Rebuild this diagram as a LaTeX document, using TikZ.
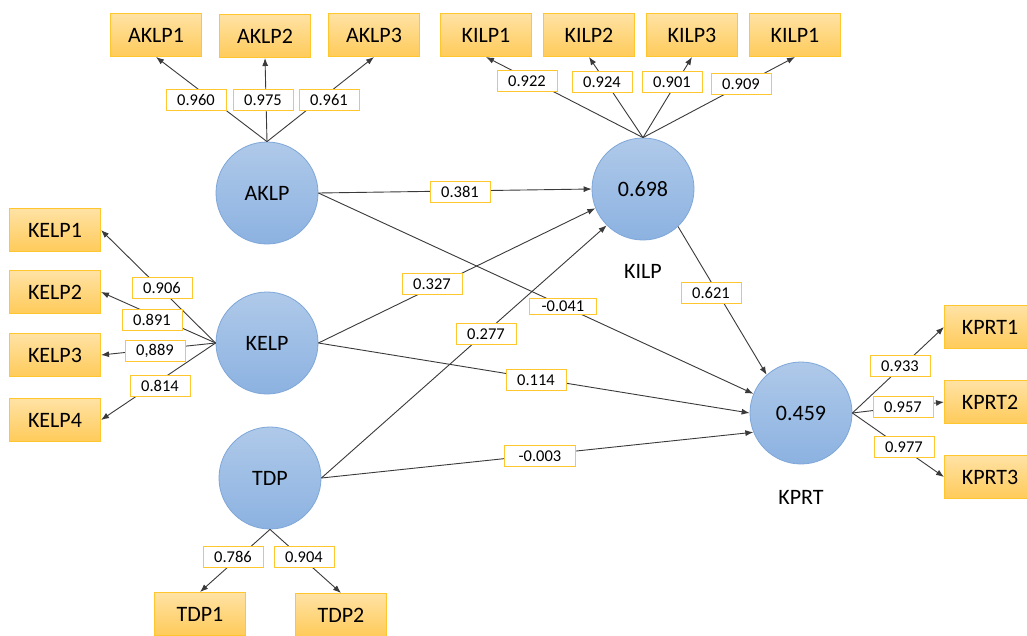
\documentclass[tikz,border=0pt]{standalone}
\usepackage{fontspec}
\setmainfont{Carlito}
\usetikzlibrary{arrows.meta}
\definecolor{boxline}{HTML}{FFC62E}
\definecolor{boxtop}{HTML}{FFE2A4}
\definecolor{boxbot}{HTML}{FFCB5A}
\definecolor{circline}{HTML}{7EA7D9}
\definecolor{circtop}{HTML}{AFC9E9}
\definecolor{circbot}{HTML}{8CB2E1}
\definecolor{lblline}{HTML}{FFC62E}
\definecolor{linecol}{HTML}{3A3A3A}
\begin{document}
\begin{tikzpicture}[x=1pt,y=-1pt,
 ind/.style={rectangle, draw=boxline, line width=1pt, top color=boxtop, bottom color=boxbot, minimum width=91pt, minimum height=43pt, inner sep=0pt, font=\fontsize{22}{25}\selectfont},
 lat/.style={circle, draw=circline, line width=0.8pt, top color=circtop, bottom color=circbot, minimum size=102pt, inner sep=0pt, font=\fontsize{22}{25}\selectfont},
 coef/.style={rectangle, draw=lblline, fill=white, line width=1pt, minimum width=60pt, minimum height=21pt, inner sep=0pt, font=\fontsize{16.5}{18}\selectfont},
 arr/.style={draw=linecol, line width=0.9pt, -{Latex[length=8pt,width=6pt]}},
 ttl/.style={font=\fontsize{22}{25}\selectfont, inner sep=0pt}]
\useasboundingbox (0,0) rectangle (1027,635);
\clip (0,0) rectangle (1027,635);
\fill[white] (0,0) rectangle (1027,635);
% latent variables
\node[lat] (AKLP) at (267,193) {AKLP};
\node[lat] (KELP) at (267,343) {KELP};
\node[lat] (TDP) at (270,478) {TDP};
\node[lat] (KILP) at (643,189) {0.698};
\node[lat] (KPRT) at (801,413) {0.459};
\node[ttl] (tKILP) at (643,271) {KILP};
\node[ttl] (tKPRT) at (801,497) {KPRT};
% indicators
\node[ind] (AKLP1) at (156,35) {AKLP1};
\node[ind] (AKLP2) at (265,36) {AKLP2};
\node[ind] (AKLP3) at (374,35) {AKLP3};
\node[ind] (KILP1) at (486,35) {KILP1};
\node[ind] (KILP2) at (589,35) {KILP2};
\node[ind] (KILP3) at (692,35) {KILP3};
\node[ind] (KILP4) at (795,35) {KILP1};
\node[ind] (KELP1) at (55,230) {KELP1};
\node[ind] (KELP2) at (55,292) {KELP2};
\node[ind] (KELP3) at (55,355) {KELP3};
\node[ind] (KELP4) at (55,420) {KELP4};
\node[ind] (TDP1) at (200,614) {TDP1};
\node[ind] (TDP2) at (341,615) {TDP2};
\node[ind] (KPRT1) at (990,327) {KPRT1};
\node[ind] (KPRT2) at (990,402) {KPRT2};
\node[ind] (KPRT3) at (990,477) {KPRT3};
% outer loadings
\draw[arr] (AKLP.north) -- (AKLP1.south);
\draw[arr] (AKLP.north) -- (AKLP2.south);
\draw[arr] (AKLP.north) -- (AKLP3.south);
\draw[arr] (KILP.north) -- (KILP1.south);
\draw[arr] (KILP.north) -- (KILP2.south);
\draw[arr] (KILP.north) -- (KILP3.south);
\draw[arr] (KILP.north) -- (KILP4.south);
\draw[arr] (KELP.west) -- (KELP1.east);
\draw[arr] (KELP.west) -- (KELP2.east);
\draw[arr] (KELP.west) -- (KELP3.east);
\draw[arr] (KELP.west) -- (KELP4.east);
\draw[arr] (TDP.south) -- (TDP1.north);
\draw[arr] (TDP.south) -- (TDP2.north);
\draw[arr] (KPRT.east) -- (KPRT1.west);
\draw[arr] (KPRT.east) -- (KPRT2.west);
\draw[arr] (KPRT.east) -- (KPRT3.west);
% structural paths
\draw[arr] (AKLP.east) -- (KILP.west);
\draw[arr] (AKLP.east) -- (KPRT.158);
\draw[arr] (KELP.east) -- (KILP.202);
\draw[arr] (TDP.east) -- (KILP.225);
\draw[arr] (KELP.east) -- (KPRT.west);
\draw[arr] (TDP.east) -- (KPRT.202);
\draw[arr] (KILP.313) -- (KPRT.132);
% coefficient labels
\node[coef] (c1) at (196,100) {0.960};
\node[coef] (c2) at (263,100) {0.975};
\node[coef] (c3) at (329,100) {0.961};
\node[coef] (c4) at (527,81) {0.922};
\node[coef] (c5) at (602,82) {0.924};
\node[coef] (c6) at (672,82) {0.901};
\node[coef] (c7) at (741,84) {0.909};
\node[coef] (c8) at (162,288) {0.906};
\node[coef] (c9) at (152,320) {0.891};
\node[coef] (c10) at (155,351) {0,889};
\node[coef] (c11) at (160,386) {0.814};
\node[coef] (c12) at (233,557) {0.786};
\node[coef] (c13) at (304,557) {0.904};
\node[coef] (c14) at (900,366) {0.933};
\node[coef] (c15) at (903,407) {0.957};
\node[coef] (c16) at (904,447) {0.977};
\node[coef] (c17) at (460,192) {0.381};
\node[coef] (c18) at (432,284) {0.327};
\node[coef, minimum width=67pt, minimum height=16pt] (c19) at (563,306) {-0.041};
\node[coef] (c20) at (486,334) {0.277};
\node[coef] (c21) at (536,380) {0.114};
\node[coef, minimum width=71pt] (c22) at (540,456) {-0.003};
\node[coef] (c23) at (711,293) {0.621};
\end{tikzpicture}
\end{document}
